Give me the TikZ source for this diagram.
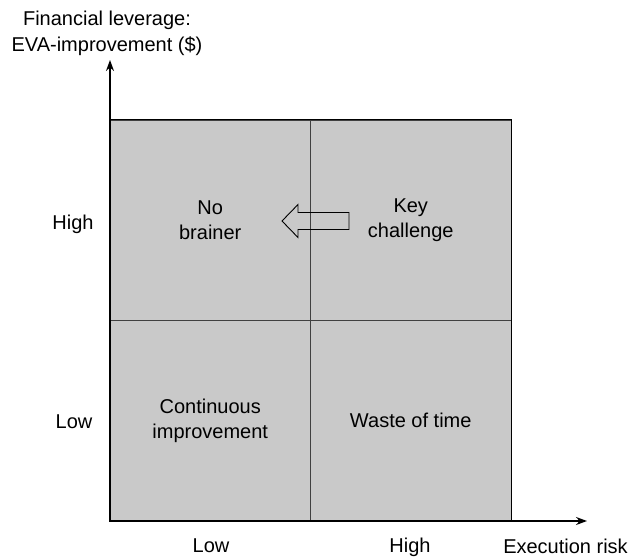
\documentclass[tikz,border=0pt]{standalone}
\usepackage{fontspec}
\setmainfont{Liberation Sans}
\usetikzlibrary{arrows.meta}
\definecolor{quadgray}{HTML}{C9C9C9}

\begin{document}
\begin{tikzpicture}[
    x=1bp, y=-1bp,
    txt/.style={font=\fontsize{20bp}{25.7bp}\selectfont, inner sep=0pt},
    quad/.style={txt, draw=black!75, line width=0.8bp, fill=quadgray,
                 minimum width=200.5bp, minimum height=200.5bp, align=center},
    axis/.style={line width=1.3bp, -{Stealth[length=11bp, width=8bp]}},
]
    \useasboundingbox (0,0) rectangle (634,557);

    % Four quadrants
    \node[quad] (nobrainer) at (210.25,220.25) {No\\brainer};
    \node[quad] (keychal)   at (410.75,220.25) {Key\\challenge};
    \node[quad] (contimp)   at (210.25,420.75) {Continuous\\improvement};
    \node[quad] (waste)     at (410.75,420.75) {Waste of time};

    % Outer frame
    \draw[line width=1.6bp] (nobrainer.north west) rectangle (waste.south east);

    % Axes
    \coordinate (origin) at (110,521);
    \coordinate (ytip) at (110,60);
    \coordinate (xtip) at (587,521);
    \draw[axis] (origin) -- (ytip);
    \draw[axis] (origin) -- (xtip);

    % Axis titles
    \node[txt, align=center, anchor=south] (ytitle) at (107,56)
        {Financial leverage:\\EVA-improvement (\$)};
    \node[txt, anchor=base] (xtitle) at (565.5,553) {Execution risk};

    % Axis levels
    \node[txt, anchor=base] (yhigh) at (73,229.3) {High};
    \node[txt, anchor=base] (ylow)  at (74,428)   {Low};
    \node[txt, anchor=base] (xlow)  at (211,552)  {Low};
    \node[txt, anchor=base] (xhigh) at (410,552)  {High};

    % Hollow block arrow
    \draw[line width=0.9bp]
      (282,221) -- (298,204.5) -- (298,212.5) -- (349,212.5)
      -- (349,229.5) -- (298,229.5) -- (298,237.5) -- cycle;
\end{tikzpicture}
\end{document}
